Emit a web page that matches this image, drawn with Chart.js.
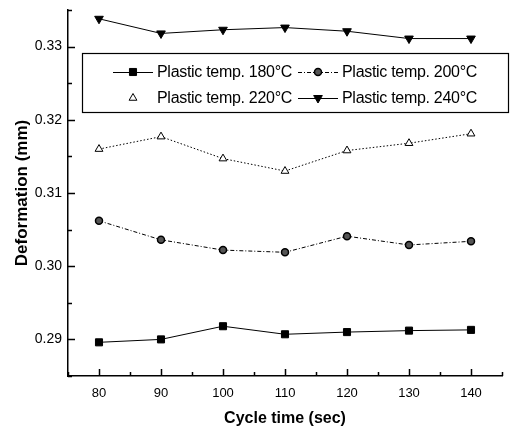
<!DOCTYPE html>
<html>
<head>
<meta charset="utf-8">
<script src="https://cdn.jsdelivr.net/npm/chart.js@4"></script>
<style>
  html, body { margin: 0; padding: 0; background: #fff; }
  #wrap { width: 511px; height: 429px; position: relative; }
</style>
</head>
<body>
<div id="wrap"><canvas id="deformChart"></canvas></div>
<script>
// cycle time (sec)
const cycleTimes = [80, 90, 100, 110, 120, 130, 140];

// deformation (mm) per plastic temperature
const temp180 = [0.2896, 0.2900, 0.2918, 0.2907, 0.2910, 0.2912, 0.2913];
const temp200 = [0.3062, 0.3036, 0.3022, 0.3019, 0.3041, 0.3029, 0.3034];
const temp220 = [0.3160, 0.3177, 0.3147, 0.3130, 0.3158, 0.3168, 0.3181];
const temp240 = [0.3338, 0.3318, 0.3323, 0.3326, 0.3321, 0.3311, 0.3311];

const seriesLabels = ['Plastic temp. 180°C', 'Plastic temp. 200°C', 'Plastic temp. 220°C', 'Plastic temp. 240°C'];

const xTicks = [80, 90, 100, 110, 120, 130, 140];
const yTicks = [0.29, 0.30, 0.31, 0.32, 0.33];

const FONT = '"Liberation Sans", Arial, sans-serif';

function toPoints(values) {
    return values.map((v, i) => ({ x: cycleTimes[i], y: v }));
}

const datasets = [
    {
        label: seriesLabels[0], data: toPoints(temp180),
        borderColor: '#000', borderWidth: 1,
        pointStyle: 'rect', pointRadius: 5, pointBackgroundColor: '#000', pointBorderColor: '#000', pointBorderWidth: 1
    },
    {
        label: seriesLabels[1], data: toPoints(temp200),
        borderColor: '#000', borderWidth: 1, borderDash: [4, 2, 1, 2],
        pointStyle: 'circle', pointRadius: 3.5, pointBackgroundColor: '#555', pointBorderColor: '#000', pointBorderWidth: 1.5
    },
    {
        label: seriesLabels[2], data: toPoints(temp220),
        borderColor: '#000', borderWidth: 1, borderDash: [1.5, 2],
        pointStyle: 'triangle', pointRadius: 4.5, pointBackgroundColor: '#fff', pointBorderColor: '#000', pointBorderWidth: 1
    },
    {
        label: seriesLabels[3], data: toPoints(temp240),
        borderColor: '#000', borderWidth: 1,
        pointStyle: 'triangle', pointRotation: 180, pointRadius: 5, pointBackgroundColor: '#000', pointBorderColor: '#000', pointBorderWidth: 1
    }
];

// ticks pointing into the plot, with minor ticks in between
const innerTicks = {
    id: 'innerTicks',
    afterDraw(chart) {
        const ctx = chart.ctx;
        const xs = chart.scales.x;
        const ys = chart.scales.y;
        const area = chart.chartArea;
        ctx.save();
        ctx.strokeStyle = '#000';
        ctx.lineWidth = 1.5;
        ctx.beginPath();
        for (let v = xs.min; v <= xs.max + 0.001; v += 5) {
            const px = Math.round(xs.getPixelForValue(v)) + 0.5;
            const len = xTicks.includes(v) ? 7 : 4;
            ctx.moveTo(px, area.bottom);
            ctx.lineTo(px, area.bottom - len);
        }
        for (let k = 0; k <= 10; k++) {
            const v = ys.min + k * 0.005;
            const py = Math.round(ys.getPixelForValue(v)) + 0.5;
            const len = k % 2 === 1 ? 7 : 4;
            ctx.moveTo(area.left, py);
            ctx.lineTo(area.left + len, py);
        }
        ctx.stroke();
        ctx.restore();
    }
};

// boxed legend in two columns, inside the plot area
const boxLegend = {
    id: 'boxLegend',
    afterDatasetsDraw(chart) {
        const ctx = chart.ctx;
        const box = { left: 82, top: 53, right: 508, bottom: 112 };
        const cols = [113, 298];
        const rows = [72, 98];
        ctx.save();
        ctx.fillStyle = '#fff';
        ctx.fillRect(box.left, box.top, box.right - box.left, box.bottom - box.top);
        ctx.strokeStyle = '#000';
        ctx.lineWidth = 1.2;
        ctx.strokeRect(box.left + 0.5, box.top + 0.5, box.right - box.left, box.bottom - box.top);

        chart.data.datasets.forEach((ds, i) => {
            const x0 = cols[i % 2];
            const y0 = rows[Math.floor(i / 2)];
            // sample line (open triangles have no line in the key)
            if (i !== 2) {
                ctx.save();
                ctx.strokeStyle = ds.borderColor;
                ctx.lineWidth = ds.borderWidth;
                ctx.setLineDash(ds.borderDash || []);
                ctx.beginPath();
                ctx.moveTo(x0, y0 + 0.5);
                ctx.lineTo(x0 + 40, y0 + 0.5);
                ctx.stroke();
                ctx.restore();
            }
            ctx.save();
            ctx.fillStyle = ds.pointBackgroundColor;
            ctx.strokeStyle = ds.pointBorderColor;
            ctx.lineWidth = ds.pointBorderWidth;
            Chart.helpers.drawPoint(ctx, {
                pointStyle: ds.pointStyle,
                rotation: ds.pointRotation || 0,
                radius: ds.pointRadius,
                borderWidth: ds.pointBorderWidth
            }, x0 + 20, y0);
            ctx.restore();

            ctx.save();
            ctx.fillStyle = '#000';
            ctx.font = '16px ' + FONT;
            ctx.letterSpacing = '-0.3px';
            ctx.textBaseline = 'middle';
            ctx.textAlign = 'left';
            ctx.fillText(ds.label, x0 + 44, y0 + 1);
            ctx.restore();
        });
        ctx.restore();
    }
};

new Chart(document.getElementById('deformChart'), {
    type: 'line',
    data: { datasets },
    options: {
        responsive: true,
        maintainAspectRatio: false,
        animation: false,
        layout: { padding: { top: 10, right: 9, left: 8, bottom: 0 } },
        plugins: {
            legend: { display: false },
            tooltip: { enabled: false }
        },
        scales: {
            x: {
                type: 'linear',
                min: 75,
                max: 145,
                afterBuildTicks: scale => { scale.ticks = xTicks.map(v => ({ value: v })); },
                afterFit: scale => { scale.height = 53; scale.paddingLeft = 0; scale.paddingRight = 0; },
                grid: { display: true, drawOnChartArea: false, drawTicks: false },
                border: { display: true, color: '#000', width: 1.5 },
                ticks: { color: '#000', font: { family: FONT, size: 13 }, padding: 10, maxRotation: 0 },
                title: { display: true, text: 'Cycle time (sec)', color: '#000', font: { family: FONT, size: 16, weight: 'bold' }, padding: { top: 4, bottom: 1 } }
            },
            y: {
                min: 0.285,
                max: 0.335,
                afterBuildTicks: scale => { scale.ticks = yTicks.map(v => ({ value: v })); },
                afterFit: scale => { scale.width = 60; scale.paddingTop = 0; scale.paddingBottom = 0; },
                grid: { display: true, drawOnChartArea: false, drawTicks: false },
                border: { display: true, color: '#000', width: 1.5 },
                ticks: { color: '#000', font: { family: FONT, size: 14 }, padding: 6, callback: v => v.toFixed(2) },
                title: { display: true, text: 'Deformation (mm)', color: '#000', font: { family: FONT, size: 17, weight: 'bold' }, padding: { bottom: 2 } }
            }
        }
    },
    plugins: [innerTicks, boxLegend]
});
</script>
</body>
</html>
